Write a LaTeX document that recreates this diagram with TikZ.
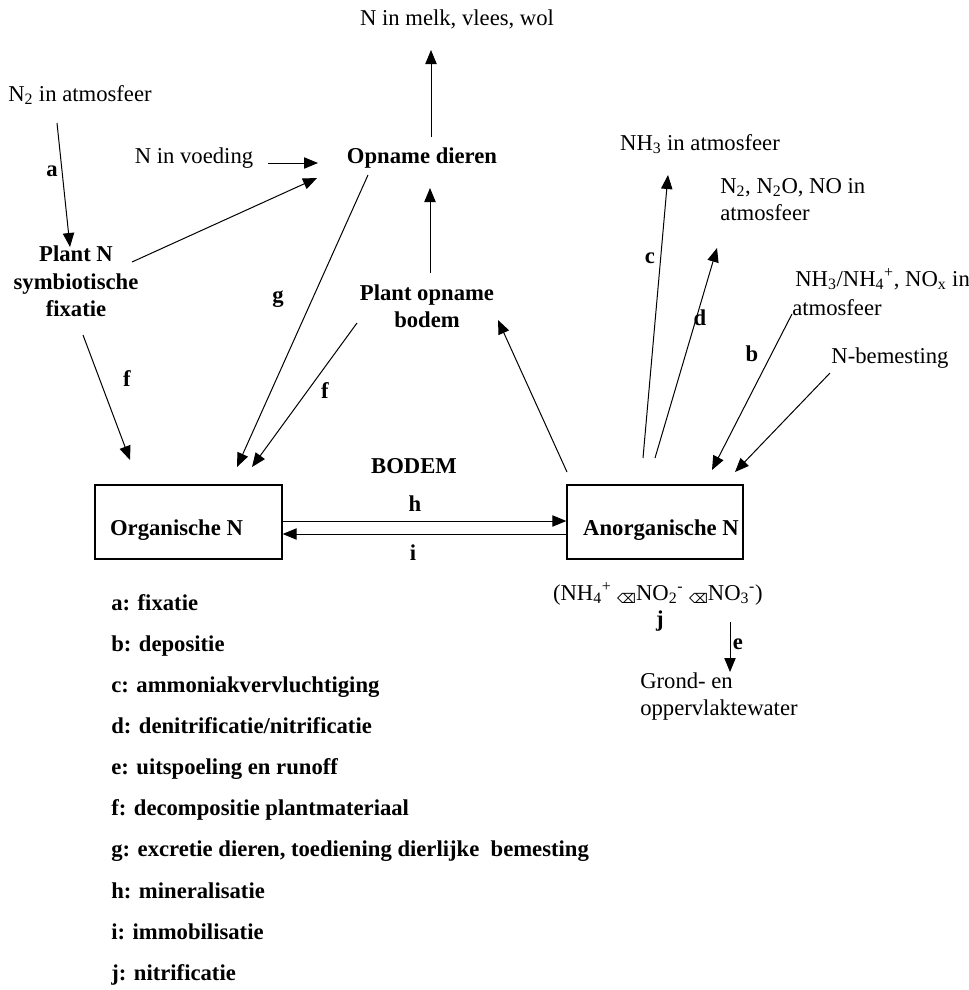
\documentclass[tikz,border=0pt]{standalone}
\usepackage{fontspec}
\setmainfont{Liberation Serif}
\newfontfamily\dejavu{DejaVu Sans}
\usetikzlibrary{arrows.meta}
\newcommand{\erasesym}{\raisebox{-0.35ex}{\dejavu\fontsize{10}{10}\selectfont ⌫}}
\begin{document}
\begin{tikzpicture}[x=0.75pt,y=-0.75pt,
  txt/.style={font=\fontsize{17}{20}\selectfont, inner sep=0pt, text height=0.68em, text depth=0.2em},
  btxt/.style={txt, font=\fontsize{17}{20}\selectfont\bfseries},
  box/.style={draw, line width=1pt, inner sep=0pt},
  arr/.style={line width=0.75pt, -{Triangle[length=10.5pt,width=8.5pt]}},
  leg/.style={btxt, anchor=west}]
\useasboundingbox (0,0) rectangle (969,990);

% text nodes
\node[txt] (melk) at (457,22) {N in melk, vlees, wol};
\node[btxt] (opname) at (422,160) {Opname dieren};
\node[txt] (n2atm) at (80,98) {N\textsubscript{2} in atmosfeer};
\node[txt] (voeding) at (194,160) {N in voeding};
\node[btxt] (plantN1) at (76,258) {Plant N};
\node[btxt] (plantN2) at (76,286) {symbiotische};
\node[btxt] (plantN3) at (76,313) {fixatie};
\node[btxt] (plantop1) at (427,297) {Plant opname};
\node[btxt] (plantop2) at (427,324) {bodem};
\node[box, minimum width=140.25pt, minimum height=55.5pt] (org) at (188.5,522) {};
\node[btxt] (orgtxt) at (176.5,532) {Organische N};
\node[box, minimum width=132pt, minimum height=55.5pt] (anorg) at (655,522) {};
\node[btxt] (anorgtxt) at (661,532) {Anorganische N};
\node[btxt] (bodem) at (414,470) {BODEM};
\node[txt] (nh3) at (700,147) {NH\textsubscript{3} in atmosfeer};
\node[txt, anchor=west] (n2o1) at (720,190) {N\textsubscript{2}, N\textsubscript{2}O, NO in};
\node[txt, anchor=west] (n2o2) at (720,217) {atmosfeer};
\node[txt, anchor=west] (nox1) at (795,283) {NH\textsubscript{3}/NH\textsubscript{4}\textsuperscript{+}, NO\textsubscript{x} in};
\node[txt, anchor=west] (nox2) at (792,312) {atmosfeer};
\node[txt] (bemest) at (890,360) {N-bemesting};
\node[txt, anchor=east] (ions) at (763,597) {(NH\textsubscript{4}\textsuperscript{+} \erasesym NO\textsubscript{2}\textsuperscript{-} \erasesym NO\textsubscript{3}\textsuperscript{-})};
\node[txt, anchor=west] (water1) at (640,685) {Grond- en};
\node[txt, anchor=west] (water2) at (640,712) {oppervlaktewater};

% arrow labels
\node[btxt] (la) at (52,173) {a};
\node[btxt] (lg) at (278,299) {g};
\node[btxt] (lf1) at (127,383) {f};
\node[btxt] (lf2) at (325,395) {f};
\node[btxt] (lc) at (650,260) {c};
\node[btxt] (ld) at (700,322) {d};
\node[btxt] (lb) at (752,358) {b};
\node[btxt] (lh) at (415,508) {h};
\node[btxt] (li) at (413,557) {i};
\node[btxt] (lj) at (660,623) {j};
\node[btxt] (le) at (738,646) {e};

% connector end points
\coordinate (p1s) at (431,137); \coordinate (p1e) at (431,50);
\coordinate (p2s) at (430,273); \coordinate (p2e) at (430,188);
\coordinate (p3s) at (57,123);  \coordinate (p3e) at (70,247);
\coordinate (p4s) at (268,163); \coordinate (p4e) at (318,163);
\coordinate (p5s) at (132,262); \coordinate (p5e) at (317,178);
\coordinate (p6s) at (368,175); \coordinate (p6e) at (237,467);
\coordinate (p7s) at (357,323); \coordinate (p7e) at (252,467);
\coordinate (p8s) at (83,335);  \coordinate (p8e) at (130,460);
\coordinate (p11s) at (567,472); \coordinate (p11e) at (498,320);
\coordinate (p12s) at (643,458); \coordinate (p12e) at (668,175);
\coordinate (p13s) at (655,458); \coordinate (p13e) at (717,248);
\coordinate (p14s) at (792,314); \coordinate (p14e) at (712,470);
\coordinate (p15s) at (830,373); \coordinate (p15e) at (735,472);
\coordinate (p16s) at (730,622); \coordinate (p16e) at (730,672);

\draw[arr] (p1s) -- (p1e);
\draw[arr] (p2s) -- (p2e);
\draw[arr] (p3s) -- (p3e);
\draw[arr] (p4s) -- (p4e);
\draw[arr] (p5s) -- (p5e);
\draw[arr] (p6s) -- (p6e);
\draw[arr] (p7s) -- (p7e);
\draw[arr] (p8s) -- (p8e);
\draw[arr] ([yshift=0.75pt]org.east) -- ([yshift=0.75pt]anorg.west);
\draw[arr] ([yshift=-9pt]anorg.west) -- ([yshift=-9pt]org.east);
\draw[arr] (p11s) -- (p11e);
\draw[arr] (p12s) -- (p12e);
\draw[arr] (p13s) -- (p13e);
\draw[arr] (p14s) -- (p14e);
\draw[arr] (p15s) -- (p15e);
\draw[arr] (p16s) -- (p16e);

% legend
\node[leg] (l1) at (111,607) {a: fixatie};
\node[leg] (l2) at (111,648) {b: depositie};
\node[leg] (l3) at (111,689) {c: ammoniakvervluchtiging};
\node[leg] (l4) at (111,730) {d: denitrificatie/nitrificatie};
\node[leg] (l5) at (111,771) {e: uitspoeling en runoff};
\node[leg] (l6) at (111,812) {f: decompositie plantmateriaal};
\node[leg] (l7) at (111,853) {g: excretie dieren, toediening dierlijke\ \ bemesting};
\node[leg] (l8) at (111,895) {h: mineralisatie};
\node[leg] (l9) at (111,936) {i: immobilisatie};
\node[leg] (l10) at (111,977) {j: nitrificatie};
\end{tikzpicture}
\end{document}
